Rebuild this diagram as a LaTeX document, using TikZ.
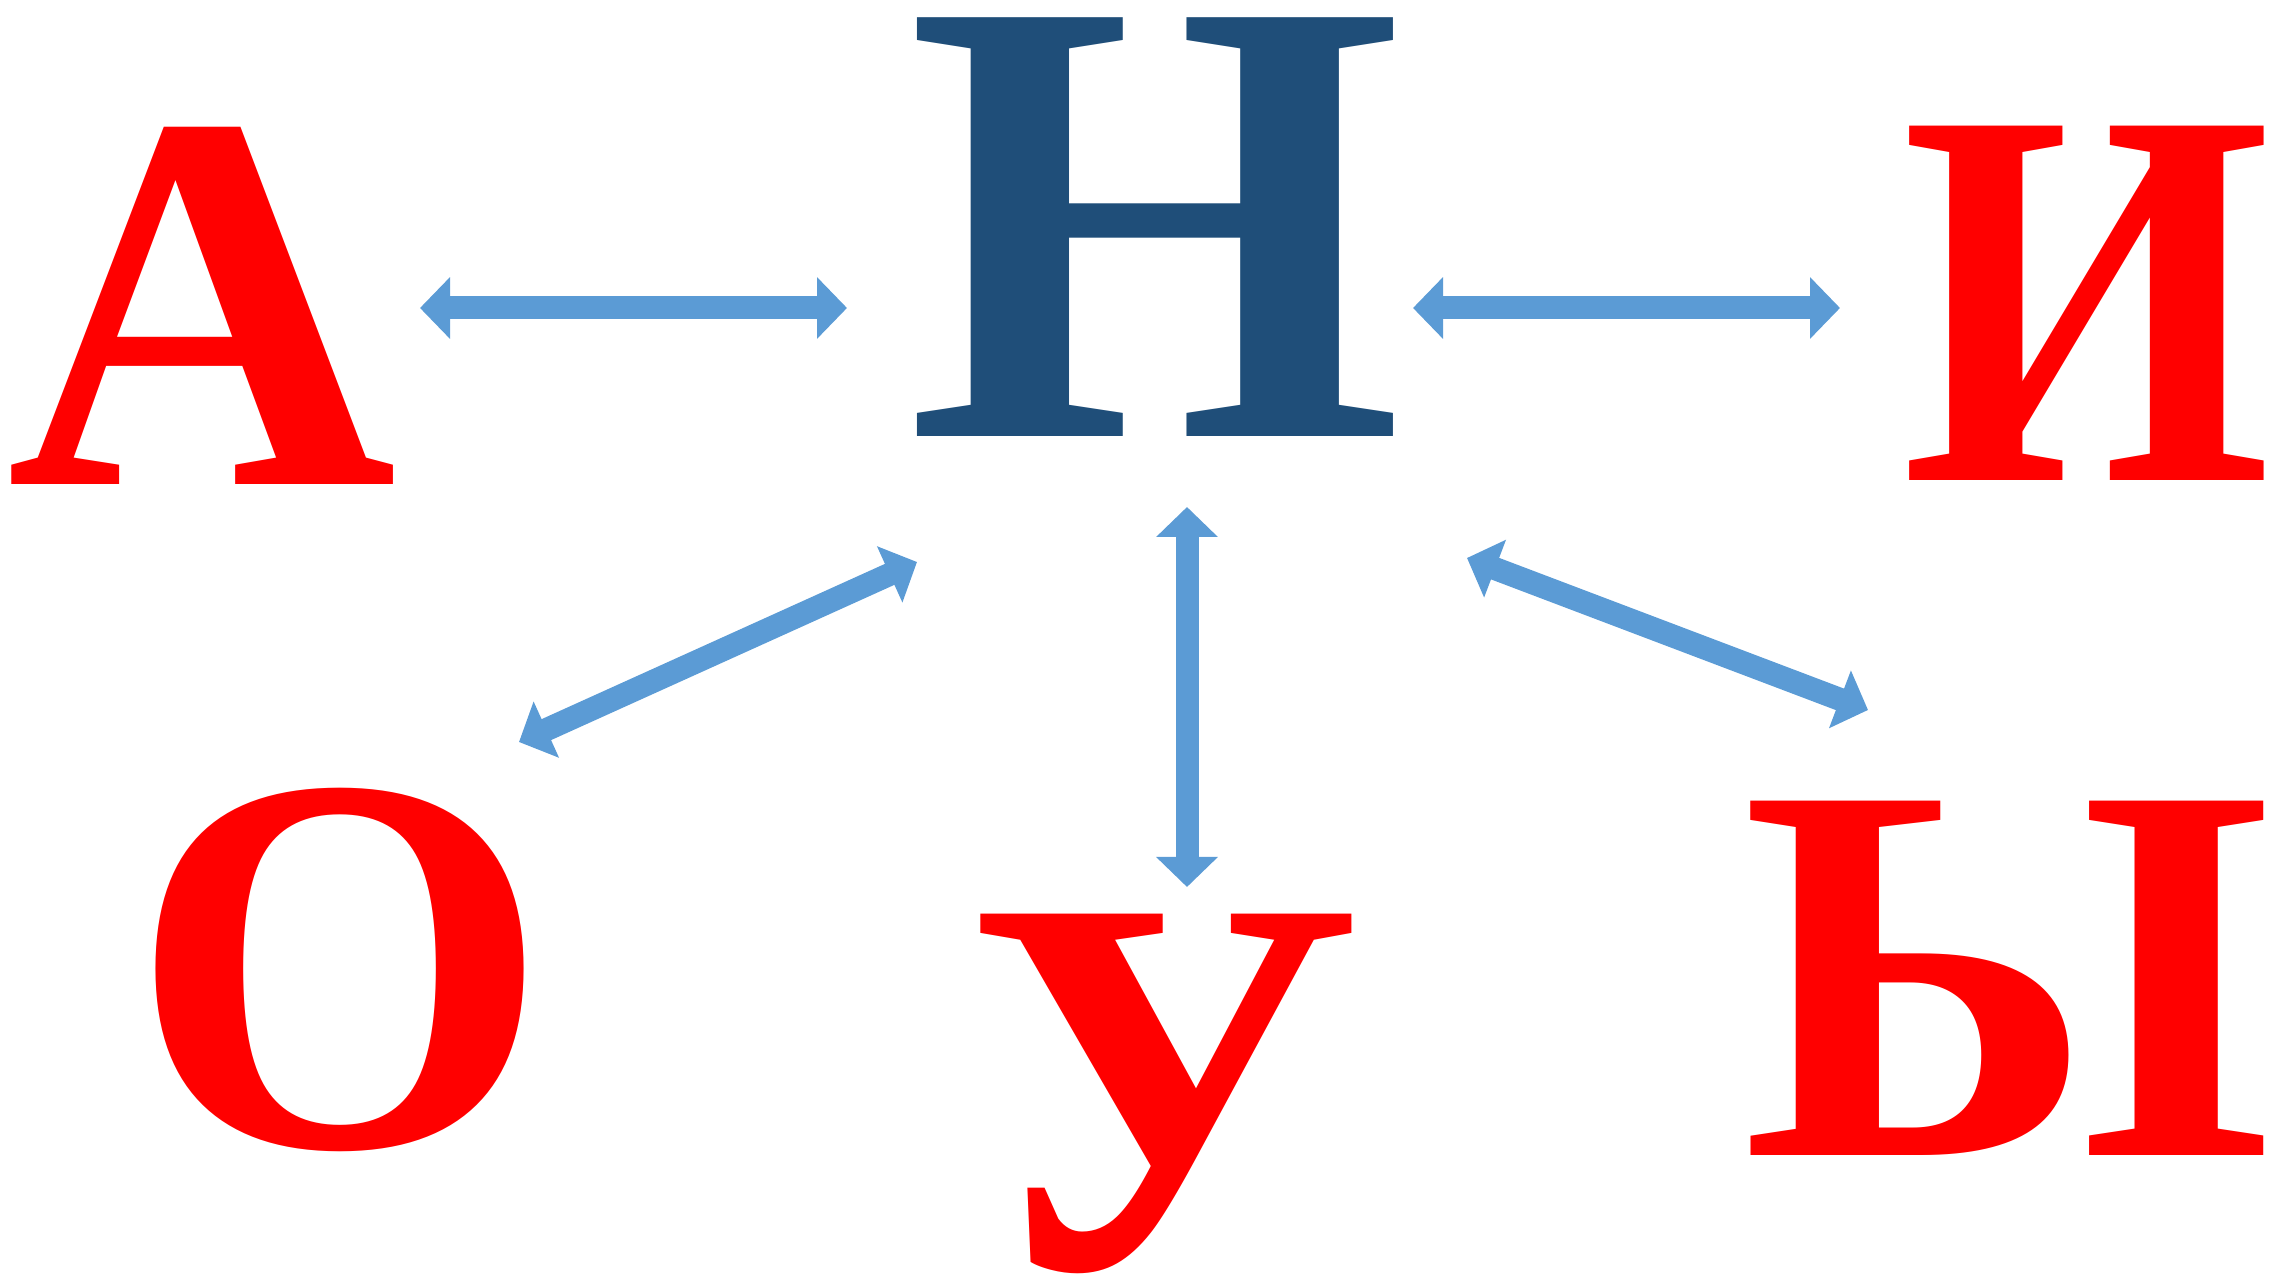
\documentclass[tikz,border=0pt]{standalone}
\usepackage{fontspec}
\setmainfont{Liberation Serif}
\usepackage{tikz}
\usetikzlibrary{arrows.meta}

\definecolor{vowelred}{HTML}{FF0000}
\definecolor{consblue}{HTML}{1F4E79}
\definecolor{linkblue}{HTML}{5B9BD5}

\tikzset{
	vowel/.style={inner sep=0, anchor=base, text=vowelred,
			font=\bfseries\fontsize{154pt}{154pt}\selectfont},
	cons/.style={inner sep=0, anchor=base, text=consblue,
			font=\bfseries\fontsize{182pt}{182pt}\selectfont},
	link/.style={linkblue, line width=2.3mm, {Triangle[width=6mm,length=3mm]}-{Triangle[width=6mm,length=3mm]}}
}

\begin{document}
\begin{tikzpicture}

		\useasboundingbox (0, 0) rectangle (22.72, -12.74);

		% Centre: the consonant
		\node[cons] (Hn) at (11.55, -4.37) {Н};

		% Top row: vowels
		\node[vowel] (A) at (2.02, -4.85) {А};
		\node[vowel] (I) at (20.87, -4.81) {\scalebox{0.88}[1]{И}};

		% Bottom row: vowels
		\node[vowel] (O) at (3.40, -11.46) {О};
		\node[vowel] (U) at (11.64, -12.68) {У};
		\node[vowel] (Y) at (20.07, -11.55) {Ы};

		% Arrow ends
		\coordinate (A-end) at (4.20, -3.08);
		\coordinate (Hn-west) at (8.47, -3.08);
		\coordinate (Hn-east) at (14.13, -3.08);
		\coordinate (I-end) at (18.40, -3.08);
		\coordinate (Hn-sw) at (9.17, -5.62);
		\coordinate (O-end) at (5.19, -7.42);
		\coordinate (Hn-south) at (11.87, -5.07);
		\coordinate (U-end) at (11.87, -8.87);
		\coordinate (Hn-se) at (14.67, -5.58);
		\coordinate (Y-end) at (18.68, -7.10);

		% --- Connecting Arrows ---
		\draw[link] (A-end) -- (Hn-west);
		\draw[link] (Hn-east) -- (I-end);
		\draw[link] (Hn-sw) -- (O-end);
		\draw[link] (Hn-south) -- (U-end);
		\draw[link] (Hn-se) -- (Y-end);

	\end{tikzpicture}
\end{document}
